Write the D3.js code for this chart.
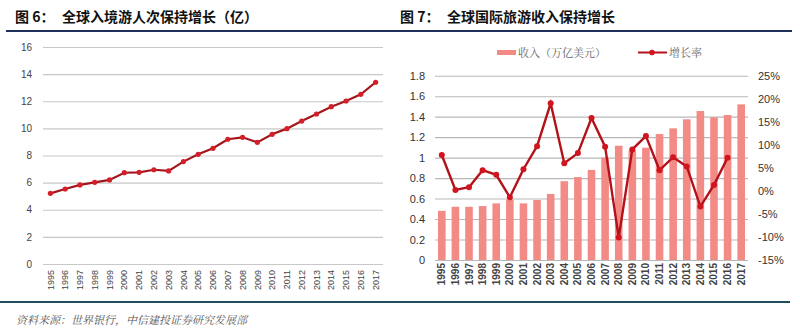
<!DOCTYPE html>
<html><head><meta charset="utf-8">
<script src="https://cdn.jsdelivr.net/npm/d3@7"></script>
<style>
body{margin:0;background:#fff;}
svg{display:block;}
</style></head>
<body>
<svg id="c" width="800" height="333"></svg>
<script>
const years = ["1995","1996","1997","1998","1999","2000","2001","2002","2003","2004","2005","2006","2007","2008","2009","2010","2011","2012","2013","2014","2015","2016","2017"];
const arrivals = [5.21,5.53,5.83,6.02,6.2,6.73,6.76,6.95,6.86,7.55,8.09,8.53,9.2,9.34,8.97,9.56,9.98,10.54,11.06,11.6,12.02,12.51,13.4];
const receipts = [0.48,0.52,0.52,0.527,0.553,0.59,0.553,0.586,0.645,0.77,0.81,0.88,1.0,1.116,1.07,1.097,1.23,1.286,1.374,1.455,1.393,1.416,1.52];
const growth = [7.8,0.2,0.8,4.5,3.5,-1.4,4.7,9.7,19.0,6.0,8.2,15.8,9.6,-10.1,9.0,11.9,4.5,7.3,5.3,-3.4,1.3,7.2,null];
const leftTicks = [0,2,4,6,8,10,12,14,16];
const rightLeftTicks = [0,0.2,0.4,0.6,0.8,1,1.2,1.4,1.6,1.8];
const rightRightTicks = [-15,-10,-5,0,5,10,15,20,25];
const title1a = "图 6：", title1b = "全球入境游人次保持增长（亿）";
const title2a = "图 7：", title2b = "全球国际旅游收入保持增长";
const legendLabels = ["收入（万亿美元）","增长率"];
const source = "资料来源：世界银行，中信建投证券研究发展部";

const svg = d3.select("#c");
const sans = "Arial, 'Liberation Sans', 'Noto Sans CJK SC', sans-serif";
const cjk = "'Noto Sans CJK SC', sans-serif";

// Titles and rules
function title(x1,x2,a,b){
  svg.append("text").attr("x",x1).attr("y",22).attr("font-family",cjk).attr("font-weight","bold")
    .attr("font-size",14).attr("fill","#111").text(a);
  svg.append("text").attr("x",x2).attr("y",22).attr("font-family",cjk).attr("font-weight","bold")
    .attr("font-size",14).attr("fill","#111").text(b);
}
title(15,62,title1a,title1b);
title(400,447,title2a,title2b);
svg.append("line").attr("x1",6).attr("x2",792).attr("y1",31).attr("y2",31).attr("stroke","#1f2f5c").attr("stroke-width",2.2);
svg.append("line").attr("x1",0).attr("x2",790).attr("y1",302).attr("y2",302).attr("stroke","#214d5a").attr("stroke-width",2);
svg.append("text").attr("x",16).attr("y",324).attr("font-family","'Noto Serif CJK SC','Noto Sans CJK SC',serif")
  .attr("font-style","italic").attr("font-size",11).attr("fill","#555").text(source);

// ---------- Left chart ----------
const lx = d3.scaleBand().domain(years).range([43,383]);
const ly = d3.scaleLinear().domain([0,16]).range([264,47]);
const g1 = svg.append("g");
g1.append("g").attr("transform","translate(43,0)")
  .call(d3.axisLeft(ly).tickValues(leftTicks).tickSize(-340).tickPadding(11))
  .call(g=>{g.select(".domain").remove();
    g.selectAll(".tick line").attr("stroke","#c8c8c8").attr("stroke-width",1.2);
    g.selectAll(".tick text").attr("font-family",sans).attr("font-size",10).attr("fill","#444");});
g1.append("g").attr("transform","translate(0,264)")
  .call(d3.axisBottom(lx).tickSize(0).tickPadding(4))
  .call(g=>{g.select(".domain").remove();
    g.selectAll(".tick text").attr("font-family",sans).attr("font-size",9).attr("fill","#444")
      .attr("transform","rotate(-90)").attr("text-anchor","end").attr("dy","0.35em").attr("x",-6).attr("y",0);});
const line1 = d3.line().x((d,i)=>lx(years[i])+lx.bandwidth()/2).y(d=>ly(d));
g1.append("path").datum(arrivals).attr("d",line1).attr("fill","none").attr("stroke","#a3161c").attr("stroke-width",2.2);
g1.selectAll("circle").data(arrivals).join("circle")
  .attr("cx",(d,i)=>lx(years[i])+lx.bandwidth()/2).attr("cy",d=>ly(d)).attr("r",2.6).attr("fill","#d41f2a");

// ---------- Right chart ----------
const rxStep = d3.scaleBand().domain(years).range([435,748]);
const ry = d3.scaleLinear().domain([0,1.8]).range([260,75.7]);
const ry2 = d3.scaleLinear().domain([-15,25]).range([260,75.7]);
const g2 = svg.append("g");
g2.append("g").attr("transform","translate(435,0)")
  .call(d3.axisLeft(ry).tickValues(rightLeftTicks).tickSize(-313).tickPadding(10).tickFormat(d3.format("~g")))
  .call(g=>{g.select(".domain").remove();
    g.selectAll(".tick line").attr("stroke","#b8b8b8").attr("stroke-width",1.1);
    g.selectAll(".tick text").attr("font-family",sans).attr("font-size",11).attr("fill","#333");});
g2.append("g").attr("transform","translate(748,0)")
  .call(d3.axisRight(ry2).tickValues(rightRightTicks).tickSize(0).tickPadding(10).tickFormat(d=>d+"%"))
  .call(g=>{g.select(".domain").remove();
    g.selectAll(".tick text").attr("font-family",sans).attr("font-size",11).attr("fill","#333");});
g2.selectAll("rect.bar").data(receipts).join("rect").attr("class","bar")
  .attr("x",(d,i)=>rxStep(years[i])+rxStep.bandwidth()/2-3.8).attr("width",7.6)
  .attr("y",d=>ry(d)).attr("height",d=>ry(0)-ry(d)).attr("fill","#f28b86");
g2.append("g").attr("transform","translate(0,260)")
  .call(d3.axisBottom(rxStep).tickSize(0).tickPadding(4))
  .call(g=>{g.select(".domain").remove();
    g.selectAll(".tick text").attr("font-family",sans).attr("font-size",10).attr("font-weight","bold").attr("fill","#444")
      .attr("transform","rotate(-90)").attr("text-anchor","end").attr("dy","0.35em").attr("x",-3).attr("y",0);});
const gpts = growth.map((v,i)=>({v,i})).filter(d=>d.v!==null);
const line2 = d3.line().x(d=>rxStep(years[d.i])+rxStep.bandwidth()/2).y(d=>ry2(d.v));
g2.append("path").datum(gpts).attr("d",line2).attr("fill","none").attr("stroke","#b3121b").attr("stroke-width",2.4);
g2.selectAll("circle").data(gpts).join("circle")
  .attr("cx",d=>rxStep(years[d.i])+rxStep.bandwidth()/2).attr("cy",d=>ry2(d.v)).attr("r",3).attr("fill","#d2141e");

// Legend
const lg = svg.append("g").attr("font-family","'Noto Serif CJK SC','Noto Sans CJK SC',serif").attr("font-size",11).attr("fill","#666");
lg.append("rect").attr("x",497).attr("y",50).attr("width",19).attr("height",5).attr("fill","#f28b86");
lg.append("text").attr("x",518).attr("y",56.5).text(legendLabels[0]);
lg.append("line").attr("x1",638).attr("x2",667).attr("y1",52.5).attr("y2",52.5).attr("stroke","#b3121b").attr("stroke-width",2);
lg.append("circle").attr("cx",652).attr("cy",52.5).attr("r",2.8).attr("fill","#d2141e");
lg.append("text").attr("x",669).attr("y",56.5).text(legendLabels[1]);
</script>
</body></html>
